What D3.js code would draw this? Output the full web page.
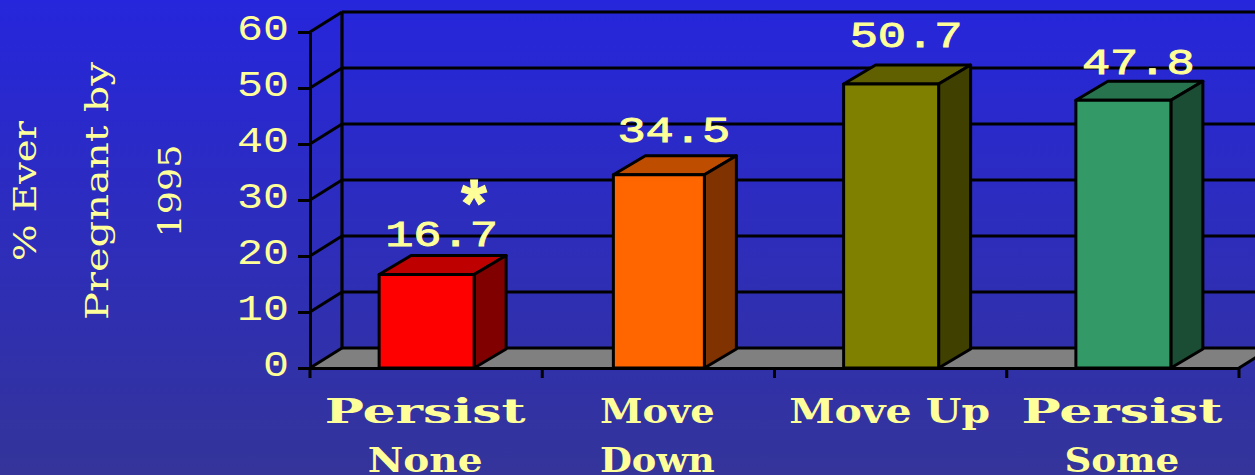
<!DOCTYPE html>
<html>
<head>
<meta charset="utf-8">
<script src="https://cdn.jsdelivr.net/npm/d3@7"></script>
<style>
  html, body { margin: 0; padding: 0; overflow: hidden; }
  svg { display: block; }
</style>
</head>
<body>
<svg id="chart"></svg>
<script>
// Chart data
const categories = ["Persist None", "Move Down", "Move Up", "Persist Some"];
const categoryLines = [["Persist", "None"], ["Move", "Down"], ["Move Up"], ["Persist", "Some"]];
const values = [16.7, 34.5, 50.7, 47.8];
const yTicks = [0, 10, 20, 30, 40, 50, 60];
const titleLines = ["% Ever", "Pregnant by", "1995"];
const barColors = ["#ff0000", "#ff6600", "#808000", "#339966"];

const width = 1255, height = 475;
const depthX = 32, depthY = 19;
const barWidths = [95, 91, 95, 95];
const textColor = "#ffff99";
const monoFont = "'Liberation Mono', monospace";
const slabFont = "'DejaVu Serif', serif";

const svg = d3.select("#chart").attr("width", width).attr("height", height);

const defs = svg.append("defs");
const grad = defs.append("linearGradient").attr("id", "bg")
    .attr("x1", 0).attr("y1", 0).attr("x2", 0).attr("y2", 1);
grad.append("stop").attr("offset", "0%").attr("stop-color", "#2626dc");
grad.append("stop").attr("offset", "100%").attr("stop-color", "#34349a");
svg.append("rect").attr("width", width).attr("height", height).attr("fill", "url(#bg)");

const x = d3.scaleBand().domain(categories).range([310, 1239]);
const y = d3.scaleLinear().domain([0, 60]).range([368, 32]);

// Walls and floor
const wall = svg.append("g").attr("fill", "none").attr("stroke", "#000");

svg.insert("polygon", "g")
    .attr("points", [[x.range()[0], y(0)], [x.range()[0] + depthX, y(0) - depthY - 1],
        [x.range()[1] + depthX, y(0) - depthY - 1], [x.range()[1], y(0)]].join(" "))
    .attr("fill", "#808080");

yTicks.forEach(t => {
    wall.append("line")
        .attr("x1", x.range()[0]).attr("y1", y(t))
        .attr("x2", x.range()[0] + depthX).attr("y2", y(t) - depthY - 1)
        .attr("stroke-width", 3);
    wall.append("line")
        .attr("x1", x.range()[0] + depthX).attr("y1", y(t) - depthY - 1)
        .attr("x2", width).attr("y2", y(t) - depthY - 1)
        .attr("stroke-width", t === 0 || t === 60 ? 3.2 : 2.8);
});
wall.append("line")
    .attr("x1", x.range()[0] + depthX).attr("y1", y(60) - depthY - 1)
    .attr("x2", x.range()[0] + depthX).attr("y2", y(0) - depthY - 1)
    .attr("stroke-width", 3.2);
wall.append("line")
    .attr("x1", x.range()[1]).attr("y1", y(0))
    .attr("x2", x.range()[1] + depthX).attr("y2", y(0) - depthY - 1)
    .attr("stroke-width", 3);

// Axes
const yAxis = svg.append("g")
    .attr("transform", `translate(${x.range()[0]},0)`)
    .call(d3.axisLeft(y).tickValues(yTicks).tickSize(12).tickPadding(22).tickSizeOuter(0));
yAxis.selectAll("path, line").attr("stroke", "#000").attr("stroke-width", 3);
yAxis.selectAll("text")
    .attr("fill", textColor)
    .attr("font-family", monoFont)
    .attr("font-size", 36)
    .attr("dy", 7.5)
    .attr("x", -21)
    .attr("textLength", d => String(d).length * 26)
    .attr("lengthAdjust", "spacingAndGlyphs");

const xAxis = svg.append("g")
    .attr("transform", `translate(0,${y(0)})`)
    .call(d3.axisBottom(x).tickValues([]).tickSizeOuter(0));
xAxis.select("path").attr("stroke", "#000").attr("stroke-width", 3.2);
// ticks sit on the band edges, not the centres
xAxis.selectAll(".edge")
    .data(categories.concat(null))
    .enter().append("line")
    .attr("class", "edge")
    .attr("x1", (d, i) => x.range()[0] + i * x.bandwidth())
    .attr("x2", (d, i) => x.range()[0] + i * x.bandwidth())
    .attr("y1", 0).attr("y2", 10)
    .attr("stroke", "#000").attr("stroke-width", 3);

// Bars
const bar = svg.selectAll(".bar")
    .data(categories)
    .enter().append("g")
    .attr("class", "bar")
    .attr("stroke", "#000")
    .attr("stroke-width", 3)
    .attr("stroke-linejoin", "round");

const left = (d, i) => x(d) + (x.bandwidth() - barWidths[i]) / 2 + 0.5;
const topY = (d, i) => y(values[i]);
const shade = (c, k) => {
    const rgb = d3.rgb(c);
    return d3.rgb(rgb.r * k, rgb.g * k, rgb.b * k).formatHex();
};

bar.append("polygon")
    .attr("points", (d, i) => {
        const l = left(d, i), t = topY(d, i);
        return [[l, t], [l + depthX, t - depthY], [l + barWidths[i] + depthX, t - depthY], [l + barWidths[i], t]].join(" ");
    })
    .attr("fill", (d, i) => shade(barColors[i], 0.75));

bar.append("polygon")
    .attr("points", (d, i) => {
        const r = left(d, i) + barWidths[i], t = topY(d, i);
        return [[r, t], [r + depthX, t - depthY], [r + depthX, y(0) - depthY], [r, y(0)]].join(" ");
    })
    .attr("fill", (d, i) => shade(barColors[i], 0.5));

bar.append("rect")
    .attr("x", (d, i) => left(d, i))
    .attr("y", (d, i) => topY(d, i))
    .attr("width", (d, i) => barWidths[i])
    .attr("height", (d, i) => y(0) - topY(d, i))
    .attr("fill", (d, i) => barColors[i]);

// Value labels, the source places them unevenly above the bars
const labelLift = [28, 33, 37, 26];
svg.selectAll(".value")
    .data(values)
    .enter().append("text")
    .attr("class", "value")
    .attr("x", (d, i) => left(categories[i], i) + barWidths[i] / 2 + 15)
    .attr("y", (d, i) => y(d) - labelLift[i])
    .attr("text-anchor", "middle")
    .attr("fill", textColor)
    .attr("stroke", textColor)
    .attr("stroke-width", 0.9)
    .attr("font-family", monoFont)
    .attr("font-size", 36)
    .attr("textLength", 113)
    .attr("lengthAdjust", "spacingAndGlyphs")
    .text(d => d.toFixed(1));

svg.append("text")
    .attr("x", left(categories[0], 0) + barWidths[0])
    .attr("y", y(values[0]) - 46)
    .attr("text-anchor", "middle")
    .attr("fill", textColor)
    .attr("stroke", textColor)
    .attr("font-family", monoFont)
    .attr("font-weight", "bold")
    .attr("font-size", 66)
    .text("*");

// Category labels
const labelWidth = s => s.length * 28.7;
categoryLines.forEach((lines, i) => {
    lines.forEach((line, j) => {
        svg.append("text")
            .attr("x", x(categories[i]) + x.bandwidth() / 2 - 1)
            .attr("y", 423 + j * 49)
            .attr("text-anchor", "middle")
            .attr("fill", textColor)
            .attr("font-family", slabFont)
            .attr("font-weight", "bold")
            .attr("font-size", 33)
            .attr("textLength", labelWidth(line))
            .attr("lengthAdjust", "spacingAndGlyphs")
            .text(line);
    });
});

// Rotated axis title, three separate lines
const titleX = [36, 108, 181];
const titleLength = [140, 258, 93];
titleLines.forEach((line, i) => {
    svg.append("text")
        .attr("transform", `translate(${titleX[i]},191) rotate(-90)`)
        .attr("text-anchor", "middle")
        .attr("fill", textColor)
        .attr("font-family", slabFont)
        .attr("font-size", 31)
        .attr("textLength", titleLength[i])
        .attr("lengthAdjust", "spacingAndGlyphs")
        .text(line);
});
</script>
</body>
</html>
